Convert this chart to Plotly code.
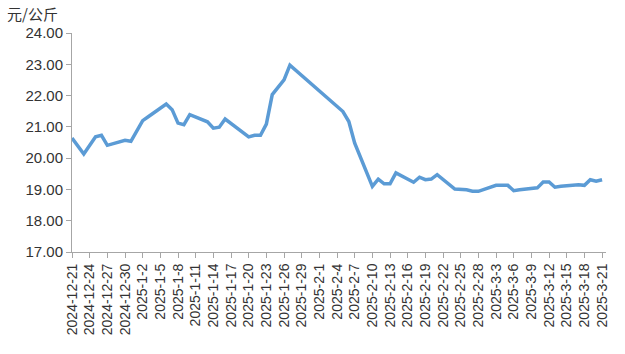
import plotly.graph_objects as go
from datetime import date, timedelta

dates = [
    "2024-12-21", "2024-12-23", "2024-12-25", "2024-12-26", "2024-12-27",
    "2024-12-30", "2024-12-31", "2025-01-02", "2025-01-03", "2025-01-06",
    "2025-01-07", "2025-01-08", "2025-01-09", "2025-01-10", "2025-01-13",
    "2025-01-14", "2025-01-15", "2025-01-16", "2025-01-20", "2025-01-21",
    "2025-01-22", "2025-01-23", "2025-01-24", "2025-01-26", "2025-01-27",
    "2025-02-05", "2025-02-06", "2025-02-07", "2025-02-10", "2025-02-11",
    "2025-02-12", "2025-02-13", "2025-02-14", "2025-02-17", "2025-02-18",
    "2025-02-19", "2025-02-20", "2025-02-21", "2025-02-24", "2025-02-25",
    "2025-02-26", "2025-02-27", "2025-02-28", "2025-03-03", "2025-03-04",
    "2025-03-05", "2025-03-06", "2025-03-07", "2025-03-10", "2025-03-11",
    "2025-03-12", "2025-03-13", "2025-03-14", "2025-03-17", "2025-03-18",
    "2025-03-19", "2025-03-20", "2025-03-21",
]
prices = [
    20.64, 20.13, 20.68, 20.73, 20.41,
    20.57, 20.54, 21.20, 21.33, 21.73,
    21.55, 21.12, 21.07, 21.39, 21.16,
    20.96, 20.99, 21.25, 20.68, 20.73,
    20.73, 21.09, 22.03, 22.50, 22.97,
    21.49, 21.17, 20.48, 19.10, 19.33,
    19.18, 19.18, 19.53, 19.23, 19.39,
    19.31, 19.33, 19.47, 19.01, 18.99,
    18.99, 18.94, 18.94, 19.13, 19.13,
    19.13, 18.96, 18.99, 19.05, 19.24,
    19.24, 19.07, 19.10, 19.15, 19.13,
    19.31, 19.26, 19.31,
]

start = date(2024, 12, 21)
tick_dates = [start + timedelta(days=3 * i) for i in range(31)]
tick_vals = [d.isoformat() for d in tick_dates]
tick_text = [f"{d.year}-{d.month}-{d.day}" for d in tick_dates]

y_ticks = [17, 18, 19, 20, 21, 22, 23, 24]
y_unit = "元/公斤"

font_fam = "Liberation Sans, Arial, sans-serif"
txt_col = "#333333"
axis_col = "#A6A6A6"

fig = go.Figure()
fig.add_trace(go.Scatter(
    x=dates, y=prices, mode="lines",
    line=dict(color="#5B9BD5", width=3.5),
    showlegend=False,
))

fig.update_layout(
    width=625, height=354,
    margin=dict(l=72, r=19, t=33, b=102),
    paper_bgcolor="white", plot_bgcolor="white",
    font=dict(family=font_fam, size=14, color=txt_col),
    xaxis=dict(
        type="date",
        range=["2024-12-21", "2025-03-21 16:00"],
        tickmode="array", tickvals=tick_vals, ticktext=tick_text,
        tickangle=-90, ticks="outside", ticklen=5, tickcolor=axis_col,
        showline=True, linecolor=axis_col, linewidth=1,
        showgrid=False, zeroline=False,
        tickfont=dict(family=font_fam, size=14, color=txt_col),
    ),
    yaxis=dict(
        range=[17, 24],
        tickmode="array", tickvals=y_ticks,
        ticktext=[f"{v:.2f}" for v in y_ticks],
        ticks="outside", ticklen=5, tickcolor=axis_col,
        showline=True, linecolor=axis_col, linewidth=1,
        showgrid=False, zeroline=False,
        tickfont=dict(family=font_fam, size=15, color=txt_col),
    ),
    annotations=[dict(
        text=y_unit, xref="paper", yref="paper",
        x=-67 / 534, y=1 + 20 / 219, xanchor="left", yanchor="middle",
        showarrow=False,
        font=dict(family="Noto Sans CJK SC", size=15, color=txt_col),
    )],
)

fig.write_html("out.html")
